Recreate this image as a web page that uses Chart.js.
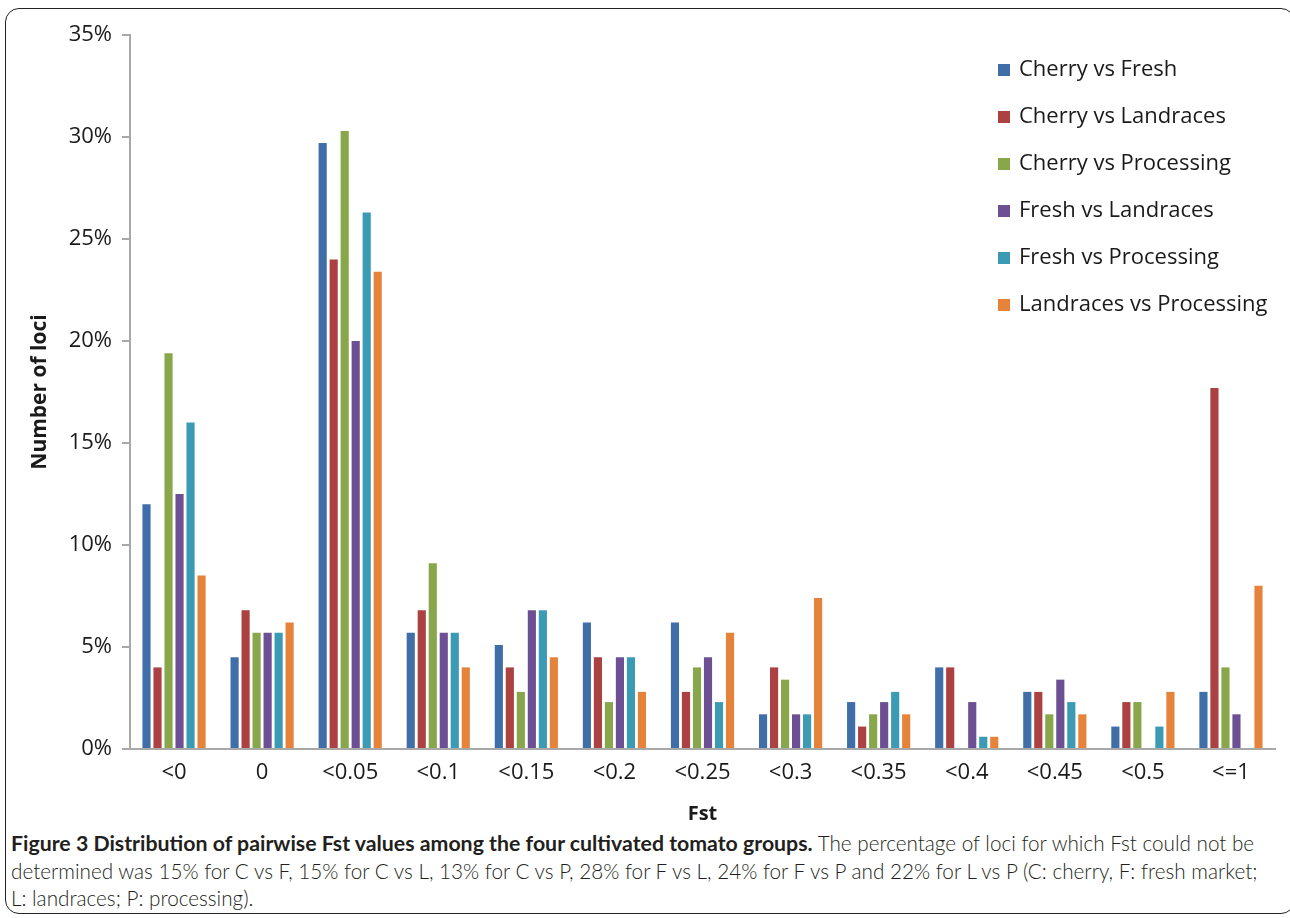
<!DOCTYPE html>
<html>
<head>
<meta charset="utf-8">
<script src="https://cdn.jsdelivr.net/npm/chart.js@4.4.0/dist/chart.umd.min.js"></script>
<style>
  html, body { margin: 0; padding: 0; background: #fff; }
  body { width: 1290px; height: 918px; position: relative; overflow: hidden; }
  #frame { position: absolute; left: 5px; top: 8px; width: 1290px; height: 906px;
           border: 1.6px solid #222; border-radius: 14px; box-sizing: border-box; }
  #wrap { position: absolute; left: 0; top: 0; width: 1290px; height: 830px; }
  #caption { position: absolute; left: 11px; top: 830px; font-family: Lato, "Open Sans", sans-serif;
             font-size: 20.7px; line-height: 27.5px; color: #231f20; white-space: nowrap; font-weight: 300; }
  #caption b { font-weight: 700; font-size: 21.3px; }
</style>
</head>
<body>
<div id="frame"></div>
<div id="wrap"><canvas id="c" width="1290" height="830"></canvas></div>
<div id="caption">
  <div><b>Figure 3 Distribution of pairwise Fst values among the four cultivated tomato groups.</b> The percentage of loci for which Fst could not be</div>
  <div>determined was 15% for C vs F, 15% for C vs L, 13% for C vs P, 28% for F vs L, 24% for F vs P and 22% for L vs P (C: cherry, F: fresh market;</div>
  <div>L: landraces; P: processing).</div>
</div>
<script>
const categories = ['<0', '0', '<0.05', '<0.1', '<0.15', '<0.2', '<0.25', '<0.3', '<0.35', '<0.4', '<0.45', '<0.5', '<=1'];
const seriesNames = ['Cherry vs Fresh', 'Cherry vs Landraces', 'Cherry vs Processing', 'Fresh vs Landraces', 'Fresh vs Processing', 'Landraces vs Processing'];
const cherryVsFresh        = [12.0, 4.5, 29.7, 5.7, 5.1, 6.2, 6.2, 1.7, 2.3, 4.0, 2.8, 1.1, 2.8];
const cherryVsLandraces    = [4.0, 6.8, 24.0, 6.8, 4.0, 4.5, 2.8, 4.0, 1.1, 4.0, 2.8, 2.3, 17.7];
const cherryVsProcessing   = [19.4, 5.7, 30.3, 9.1, 2.8, 2.3, 4.0, 3.4, 1.7, 0, 1.7, 2.3, 4.0];
const freshVsLandraces     = [12.5, 5.7, 20.0, 5.7, 6.8, 4.5, 4.5, 1.7, 2.3, 2.3, 3.4, 0, 1.7];
const freshVsProcessing    = [16.0, 5.7, 26.3, 5.7, 6.8, 4.5, 2.3, 1.7, 2.8, 0.6, 2.3, 1.1, 0];
const landracesVsProcessing= [8.5, 6.2, 23.4, 4.0, 4.5, 2.8, 5.7, 7.4, 1.7, 0.6, 1.7, 2.8, 8.0];
const yTicks = [0, 5, 10, 15, 20, 25, 30, 35];
const colors = ['#3f6ea8', '#ab4141', '#87a74a', '#6c5093', '#3b9bb4', '#e5833b'];

const seriesValues = [cherryVsFresh, cherryVsLandraces, cherryVsProcessing, freshVsLandraces, freshVsProcessing, landracesVsProcessing];

const FONT = '"Open Sans", Lato, sans-serif';

const legendPlugin = {
  id: 'floatLegend',
  afterDraw(chart) {
    const ctx = chart.ctx;
    ctx.save();
    ctx.font = '22px ' + FONT;
    ctx.textBaseline = 'middle';
    ctx.textAlign = 'left';
    chart.data.datasets.forEach((ds, i) => {
      const y = 70 + i * 47;
      ctx.fillStyle = ds.backgroundColor;
      ctx.fillRect(998, y - 6, 12, 12);
      ctx.fillStyle = '#1a1a1a';
      ctx.fillText(ds.label, 1019, y);
    });
    ctx.restore();
  }
};

new Chart(document.getElementById('c'), {
  type: 'bar',
  data: {
    labels: categories,
    datasets: seriesNames.map((name, i) => ({
      label: name,
      data: seriesValues[i],
      backgroundColor: colors[i],
      borderWidth: 0,
      categoryPercentage: 0.75,
      barPercentage: 0.74
    }))
  },
  options: {
    responsive: false,
    animation: false,
    devicePixelRatio: 1,
    layout: { padding: { top: 35, right: 15, left: 0, bottom: 0 } },
    plugins: { legend: { display: false }, tooltip: { enabled: false } },
    scales: {
      x: {
        grid: { display: false, drawTicks: false },
        border: { color: '#a8a8a8', width: 2 },
        ticks: { color: '#1a1a1a', font: { family: FONT, size: 22 }, padding: 11, maxRotation: 0, autoSkip: false },
        title: { display: true, text: 'Fst', color: '#1a1a1a', font: { family: FONT, size: 20, weight: 'bold' }, padding: { top: 10 } },
        afterFit(scale) { scale.height = 81; }
      },
      y: {
        min: 0, max: 35,
        afterBuildTicks(scale) { scale.ticks = yTicks.map(v => ({ value: v })); },
        grid: { display: true, drawOnChartArea: false, drawTicks: true, tickLength: 8, color: '#a8a8a8', lineWidth: 2 },
        border: { color: '#a8a8a8', width: 2 },
        ticks: { color: '#1a1a1a', font: { family: FONT, size: 22 }, padding: 10, callback: v => v + '%' },
        title: { display: true, text: 'Number of loci', color: '#1a1a1a', font: { family: FONT, size: 21, weight: 'bold' }, padding: { top: 27 } },
        afterFit(scale) { scale.width = 130; }
      }
    }
  },
  plugins: [legendPlugin]
});
</script>
</body>
</html>
